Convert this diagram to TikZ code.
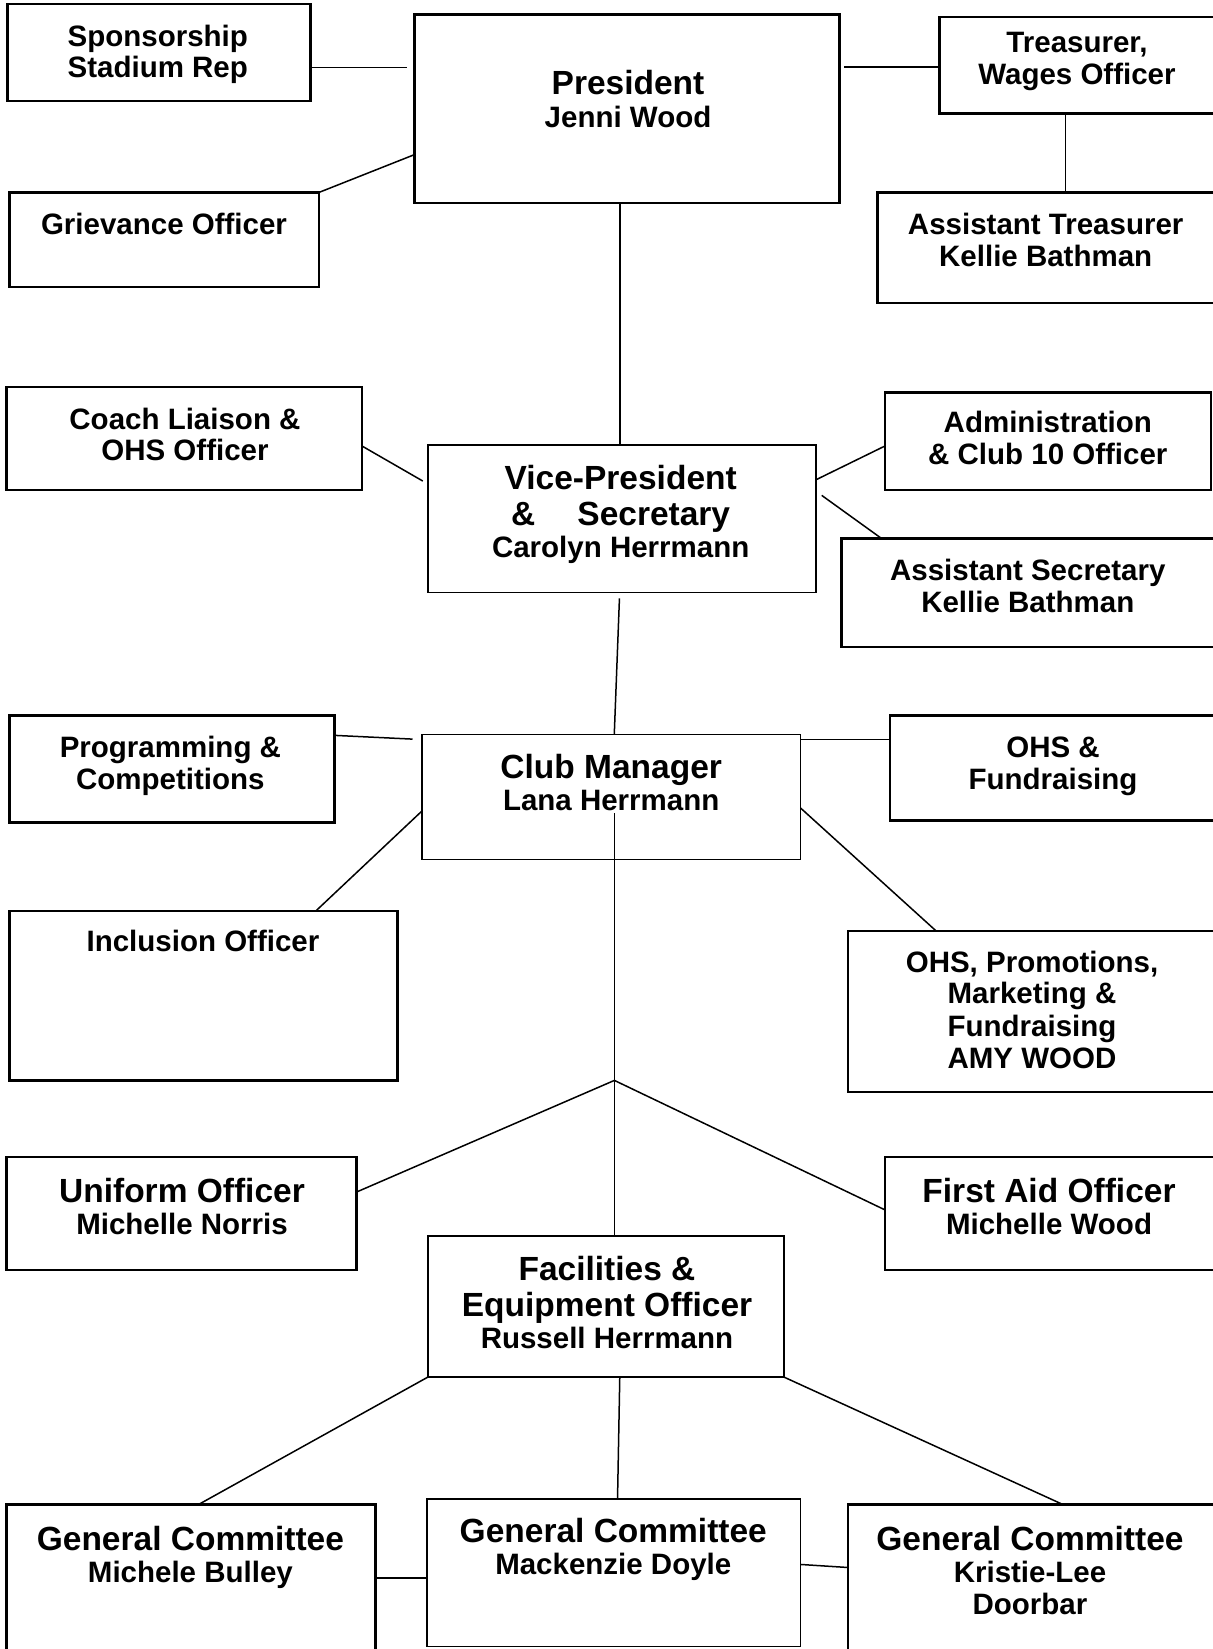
\documentclass[tikz,border=0pt]{standalone}
\usepackage{fontspec}
\setmainfont{Liberation Sans}
\usetikzlibrary{fit,calc}
\newcommand\smtxt{\fontsize{14.75pt}{16pt}\selectfont\bfseries}
\newcommand\lgtxt{\fontsize{16.75pt}{18pt}\selectfont\bfseries}
\tikzset{
  box/.style={draw, line width=1.25pt, inner sep=0pt, outer sep=0pt},
  thinbox/.style={draw, line width=0.8pt, inner sep=0pt, outer sep=0pt},
  conn/.style={line width=0.75pt},
  ts/.style={anchor=base, inner sep=0pt, font=\smtxt},
  tl/.style={anchor=base, inner sep=0pt, font=\lgtxt},
}
\begin{document}
\begin{tikzpicture}[x=0.5pt,y=-0.5pt]
\useasboundingbox (0,0) rectangle (1213,1649);
\fill[white] (0,0) rectangle (1213,1649);
\clip (0,0) rectangle (1213,1649);

% boxes
\node[box, fit={(7.4,4.2) (310.4,101)}] (spons) {};
\node[box, fit={(414.5,14.7) (839.5,203)}] (pres) {};
\node[box, fit={(939.5,16.8) (1220,113.6)}] (treas) {};
\node[box, fit={(9.5,192.5) (318.8,287.2)}] (griev) {};
\node[box, fit={(877.4,192.5) (1220,303)}] (asstT) {};
\node[box, fit={(6.3,387) (362,490)}] (coach) {};
\node[thinbox, fit={(428,445) (816,592.3)}] (vp) {};
\node[box, fit={(884.8,392.4) (1211,490)}] (admin) {};
\node[box, fit={(841.6,538.6) (1220,647)}] (asstS) {};
\node[box, fit={(9.5,715.4) (334.5,822.7)}] (prog) {};
\node[thinbox, fit={(421.9,734.3) (800.6,859.5)}] (cm) {};
\node[box, fit={(890,715.4) (1220,820.6)}] (ohsf) {};
\node[box, fit={(9.5,911) (397.7,1080.4)}] (incl) {};
\node[box, fit={(848,931) (1220,1092)}] (ohsp) {};
\node[box, fit={(6.3,1157.2) (356.6,1269.8)}] (unif) {};
\node[box, fit={(884.8,1157.2) (1220,1269.8)}] (fa) {};
\node[box, fit={(428,1236) (783.8,1377)}] (fac) {};
\node[box, fit={(6.3,1504.4) (375.6,1670)}] (gc1) {};
\node[thinbox, fit={(427,1499) (800.6,1646.4)}] (gc2) {};
\node[box, fit={(848,1504.4) (1220,1670)}] (gc3) {};

% texts
\node[ts] (sponsA) at (157.8,46.4) {Sponsorship};
\node[ts] (sponsB) at (157.8,77.9) {Stadium Rep};
\node[tl] (presA) at (628,94) {President};
\node[ts] (presB) at (628,127.4) {Jenni Wood};
\node[ts] (treasA) at (1077,52.6) {Treasurer,};
\node[ts] (treasB) at (1077,84.2) {Wages Officer};
\node[ts] (grievA) at (164,234.6) {Grievance Officer};
\node[ts] (asstTA) at (1045.7,234.6) {Assistant Treasurer};
\node[ts] (asstTB) at (1045.7,266.2) {Kellie Bathman};
\node[ts] (coachA) at (185,429.3) {Coach Liaison \&};
\node[ts] (coachB) at (185,460.6) {OHS Officer};
\node[tl] (vpA) at (620.7,489.6) {Vice-President};
\node[tl] (vpB) at (620.7,525.4) {\&\hspace{21pt}Secretary};
\node[ts] (vpC) at (620.7,557.6) {Carolyn Herrmann};
\node[ts] (adminA) at (1047.8,432.5) {Administration};
\node[ts] (adminB) at (1047.8,464) {\& Club 10 Officer};
\node[ts] (asstSA) at (1027.8,580.8) {Assistant Secretary};
\node[ts] (asstSB) at (1027.8,612.4) {Kellie Bathman};
\node[ts] (progA) at (170.4,757.6) {Programming \&};
\node[ts] (progB) at (170.4,789.1) {Competitions};
\node[tl] (cmA) at (611.2,778) {Club Manager};
\node[ts] (cmB) at (611.2,810.2) {Lana Herrmann};
\node[ts] (ohsfA) at (1053,757.6) {OHS \&};
\node[ts] (ohsfB) at (1053,789.1) {Fundraising};
\node[ts] (inclA) at (203,951.1) {Inclusion Officer};
\node[ts] (ohspA) at (1032,972.2) {OHS, Promotions,};
\node[ts] (ohspB) at (1032,1003.6) {Marketing \&};
\node[ts] (ohspC) at (1032,1036.3) {Fundraising};
\node[ts] (ohspD) at (1032,1068.9) {AMY WOOD};
\node[tl] (unifA) at (182,1202) {Uniform Officer};
\node[ts] (unifB) at (182,1234.1) {Michelle Norris};
\node[tl] (faA) at (1049,1202) {First Aid Officer};
\node[ts] (faB) at (1049,1234.1) {Michelle Wood};
\node[tl] (facA) at (607,1280.8) {Facilities \&};
\node[tl] (facB) at (607,1316.5) {Equipment Officer};
\node[ts] (facC) at (607,1348.6) {Russell Herrmann};
\node[tl] (gc1A) at (190.4,1550) {General Committee};
\node[ts] (gc1B) at (190.4,1582.3) {Michele Bulley};
\node[tl] (gc2A) at (613.3,1542.7) {General Committee};
\node[ts] (gc2B) at (613.3,1574.6) {Mackenzie Doyle};
\node[tl] (gc3A) at (1030,1550) {General Committee};
\node[ts] (gc3B) at (1030,1582.3) {Kristie-Lee};
\node[ts] (gc3C) at (1030,1614.9) {Doorbar};

% connectors
\draw[conn, shorten >=3.7pt] ($(spons.north east)!0.652!(spons.south east)$) coordinate (c1) -- (c1 -| pres.west);
\draw[conn] (griev.north east) -- ($(pres.north west)!0.743!(pres.south west)$);
\draw[conn, shorten >=2pt] ($(treas.north west)!0.52!(treas.south west)$) coordinate (c2) -- (c2 -| pres.east);
\draw[conn] ($(treas.south west)!0.45!(treas.south east)$) coordinate (c3) -- (c3 |- asstT.north);
\draw[conn] ($(pres.south west)!0.483!(pres.south east)$) coordinate (c4) -- (c4 |- vp.north);
\draw[conn, shorten >=3pt] ($(coach.north east)!0.573!(coach.south east)$) -- ($(vp.north west)!0.265!(vp.south west)$);
\draw[conn] ($(vp.north east)!0.236!(vp.south east)$) -- ($(admin.north west)!0.55!(admin.south west)$);
\draw[conn, shorten <=3.5pt] ($(vp.north east)!0.314!(vp.south east)$) -- ($(asstS.north west)!0.106!(asstS.north east)$);
\draw[conn, shorten <=3pt] ($(vp.south west)!0.494!(vp.south east)$) -- ($(cm.north west)!0.508!(cm.north east)$);
\coordinate (jn) at (614.4,1080.4);
\coordinate (cmin) at (614.4,813);
\draw[conn] (cmin) -- (jn);
\draw[conn, shorten >=4.7pt] ($(prog.north east)!0.186!(prog.south east)$) -- ($(cm.north west)!0.042!(cm.south west)$);
\draw[conn] ($(cm.north west)!0.613!(cm.south west)$) -- ($(incl.north west)!0.789!(incl.north east)$);
\draw[conn] ($(cm.north east)!0.042!(cm.south east)$) coordinate (c5) -- (c5 -| ohsf.west);
\draw[conn] ($(cm.north east)!0.589!(cm.south east)$) -- ($(ohsp.north west)!0.237!(ohsp.north east)$);
\draw[conn] (jn) -- ($(unif.north east)!0.309!(unif.south east)$);
\draw[conn] (jn) -- ($(fa.north west)!0.467!(fa.south west)$);
\draw[conn] (jn) -- (jn |- fac.north);
\draw[conn] (fac.south west) -- ($(gc1.north west)!0.521!(gc1.north east)$);
\draw[conn] ($(fac.south west)!0.539!(fac.south east)$) -- ($(gc2.north west)!0.51!(gc2.north east)$);
\draw[conn] (fac.south east) -- ($(gc3.north west)!0.577!(gc3.north east)$);
\draw[conn] ($(gc1.north east)!0.444!(gc1.south east)$) coordinate (c6) -- (c6 -| gc2.west);
\draw[conn] ($(gc2.north east)!0.444!(gc2.south east)$) -- ($(gc3.north west)!0.381!(gc3.south west)$);
\end{tikzpicture}
\end{document}
